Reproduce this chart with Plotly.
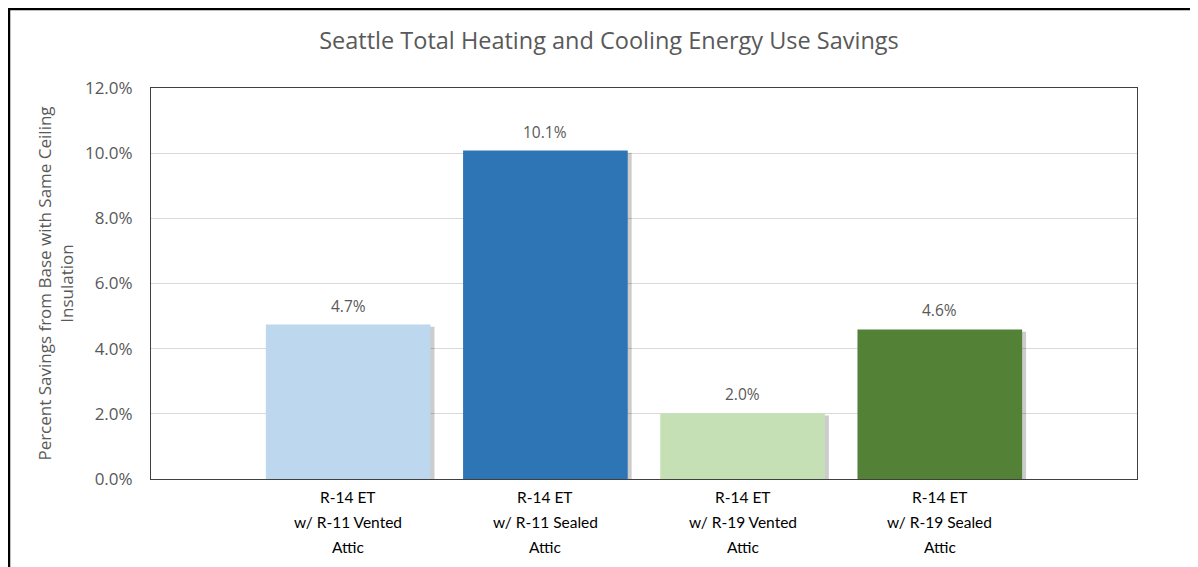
import plotly.graph_objects as go

categories = [
    "R-14 ET<br>w/ R-11 Vented<br>Attic",
    "R-14 ET<br>w/ R-11 Sealed<br>Attic",
    "R-14 ET<br>w/ R-19 Vented<br>Attic",
    "R-14 ET<br>w/ R-19 Sealed<br>Attic",
]
positions = [1, 2, 3, 4]
savings = [0.0474, 0.1008, 0.0202, 0.0459]
bar_colors = ["#BDD7EE", "#2E75B6", "#C5E0B4", "#538135"]
y_ticks = [0, 0.02, 0.04, 0.06, 0.08, 0.10, 0.12]

GRAY = "#595959"
FONT = "'Open Sans', Lato, sans-serif"

L, T, PW, PH = 143, 80, 986, 391
W, H = 1198, 567

fig = go.Figure()

# drop shadow
fig.add_trace(go.Bar(
    x=[p + 0.02 for p in positions],
    y=[v - 0.0007 for v in savings],
    width=0.835,
    marker=dict(color="rgba(0,0,0,0.2)", line=dict(width=0)),
    hoverinfo="skip",
    showlegend=False,
))

fig.add_trace(go.Bar(
    x=positions,
    y=savings,
    width=0.835,
    marker=dict(color=bar_colors, line=dict(width=0)),
    hoverinfo="y",
    showlegend=False,
))

for p, v in zip(positions, savings):
    fig.add_annotation(
        x=p, y=v, text=f"{v*100:.1f}%", showarrow=False,
        yanchor="middle", yshift=19,
        font=dict(family=FONT, size=15.5, color=GRAY),
    )

# category labels, one annotation per line for Excel-like line spacing
for p, label in zip(positions, categories):
    for i, line in enumerate(label.split("<br>")):
        fig.add_annotation(
            x=p, xref="x", y=0, yref="paper", text=line, showarrow=False,
            yanchor="middle", yshift=-(18 + 25 * i),
            font=dict(family="Lato, sans-serif", size=15.5, color="black"),
        )

fig.update_layout(
    width=W,
    height=H,
    margin=dict(l=L, r=W - L - PW, t=T, b=H - T - PH),
    paper_bgcolor="white",
    plot_bgcolor="white",
    barmode="overlay",
    title=dict(
        text="Seattle Total Heating and Cooling Energy Use Savings",
        x=601 / W, xanchor="center",
        y=1 - 33 / H, yanchor="middle",
        font=dict(family=FONT, size=23.5, color=GRAY),
    ),
    xaxis=dict(
        range=[0, 5],
        tickvals=positions,
        showticklabels=False,
        showgrid=False,
        showline=True, linecolor="#404040", linewidth=1, mirror=True,
        ticks="",
        fixedrange=True,
    ),
    yaxis=dict(
        range=[0, 0.12],
        tickvals=y_ticks,
        tickformat=".1%",
        tickfont=dict(family=FONT, size=17, color=GRAY),
        showgrid=True, gridcolor="#D9D9D9", gridwidth=1,
        showline=True, linecolor="#404040", linewidth=1, mirror=True,
        ticks="", ticklabelstandoff=14,
        zeroline=False,
        title=dict(
            text="Percent Savings from Base with Same Ceiling<br>Insulation",
            font=dict(family=FONT, size=17, color=GRAY),
            standoff=6,
        ),
    ),
    shapes=[dict(
        type="rect", xref="paper", yref="paper",
        x0=(1 - L) / PW, x1=(1400 - L) / PW,
        y0=(T + PH - 800) / PH, y1=(T + PH - 1) / PH,
        line=dict(color="black", width=2.5), fillcolor="rgba(0,0,0,0)",
        layer="below",
    )],
)

fig.write_html("out.html")
